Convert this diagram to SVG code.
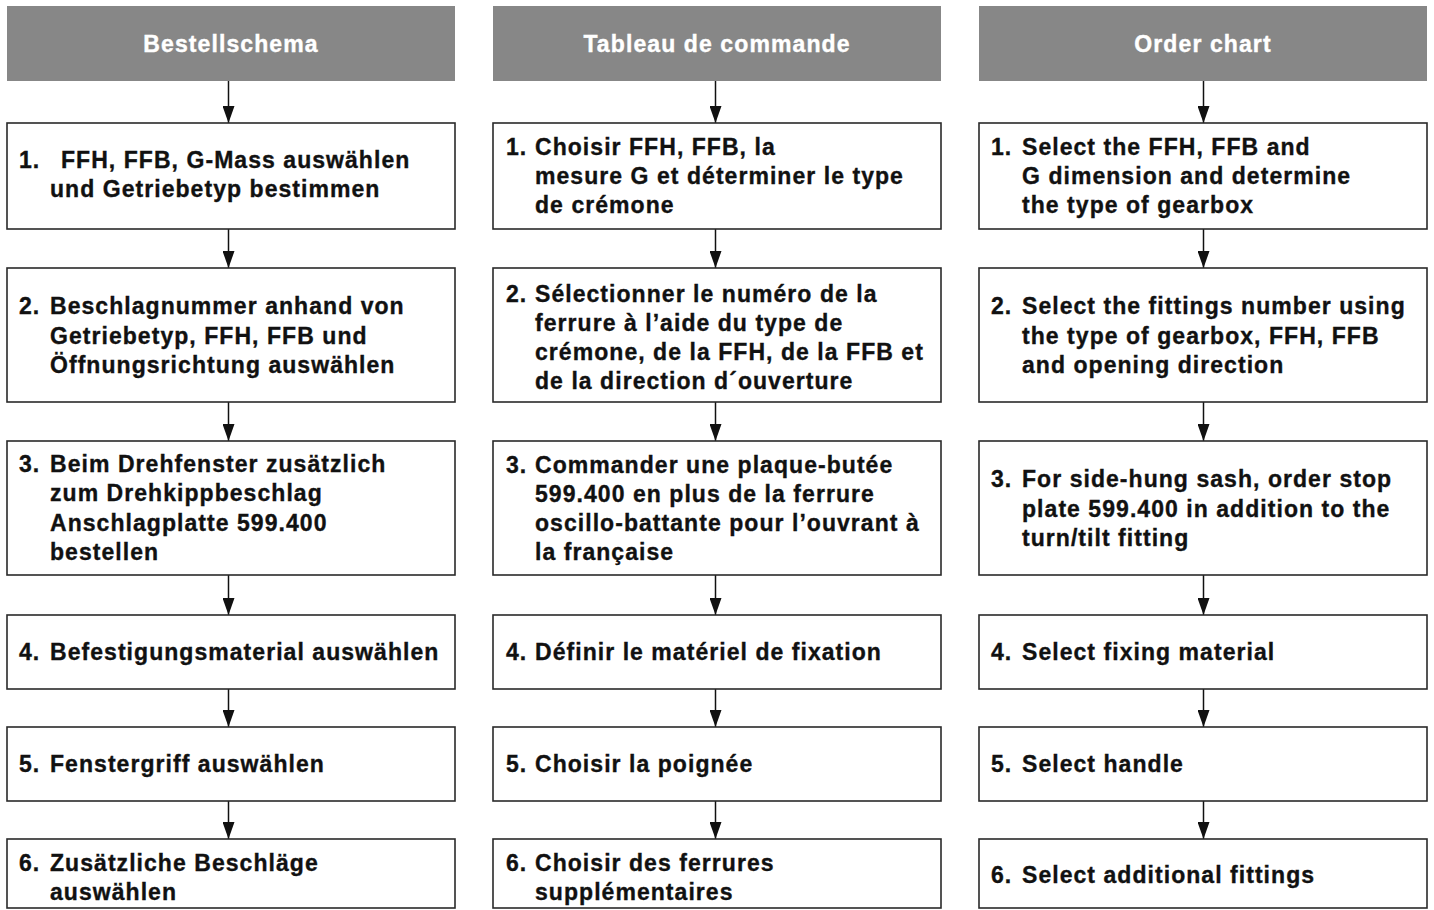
<svg xmlns="http://www.w3.org/2000/svg" width="1434" height="910" viewBox="0 0 1434 910">
<style>
.hdr{fill:#878787;stroke:none}
.ht{font-family:"Liberation Sans",Arial,sans-serif;font-weight:bold;font-size:23px;fill:#fff;stroke:#fff;stroke-width:0.4;text-anchor:middle;letter-spacing:1.1px}
.box{fill:#fff;stroke:#2a2a2a;stroke-width:1.6}
.t{font-family:"Liberation Sans",Arial,sans-serif;font-weight:bold;font-size:23px;fill:#111;stroke:#111;stroke-width:0.35;letter-spacing:1.05px}
.c{stroke:#111;stroke-width:1.5;fill:none;marker-end:url(#ah)}
</style>
<defs>
<marker id="ah" markerUnits="userSpaceOnUse" markerWidth="17" markerHeight="12" viewBox="0 0 17 12" refX="17" refY="6" orient="auto">
<path d="M0,0 L17,6 L0,12 Z" fill="#111"/>
</marker>
</defs>
<rect width="1434" height="910" fill="#fff"/>

<g id="connectors">
<line class="c" x1="228.5" y1="81" x2="228.5" y2="123"/>
<line class="c" x1="228.5" y1="229" x2="228.5" y2="268"/>
<line class="c" x1="228.5" y1="402" x2="228.5" y2="441"/>
<line class="c" x1="228.5" y1="575" x2="228.5" y2="615"/>
<line class="c" x1="228.5" y1="689" x2="228.5" y2="727"/>
<line class="c" x1="228.5" y1="801" x2="228.5" y2="839"/>
<line class="c" x1="715.5" y1="81" x2="715.5" y2="123"/>
<line class="c" x1="715.5" y1="229" x2="715.5" y2="268"/>
<line class="c" x1="715.5" y1="402" x2="715.5" y2="441"/>
<line class="c" x1="715.5" y1="575" x2="715.5" y2="615"/>
<line class="c" x1="715.5" y1="689" x2="715.5" y2="727"/>
<line class="c" x1="715.5" y1="801" x2="715.5" y2="839"/>
<line class="c" x1="1203.5" y1="81" x2="1203.5" y2="123"/>
<line class="c" x1="1203.5" y1="229" x2="1203.5" y2="268"/>
<line class="c" x1="1203.5" y1="402" x2="1203.5" y2="441"/>
<line class="c" x1="1203.5" y1="575" x2="1203.5" y2="615"/>
<line class="c" x1="1203.5" y1="689" x2="1203.5" y2="727"/>
<line class="c" x1="1203.5" y1="801" x2="1203.5" y2="839"/>
</g>

<g id="h1"><rect class="hdr" x="7" y="6" width="448" height="75"/><text class="ht" x="231" y="52">Bestellschema</text></g>
<g id="h2"><rect class="hdr" x="493" y="6" width="448" height="75"/><text class="ht" x="717" y="52">Tableau de commande</text></g>
<g id="h3"><rect class="hdr" x="979" y="6" width="448" height="75"/><text class="ht" x="1203" y="52">Order chart</text></g>

<!-- Column 1 -->
<g id="de1"><rect class="box" x="7" y="123" width="448" height="106"/>
<text class="t" x="19" y="168">1.</text><text class="t" x="61" y="168">FFH, FFB, G-Mass auswählen</text>
<text class="t" x="50" y="197">und Getriebetyp bestimmen</text></g>
<g id="de2"><rect class="box" x="7" y="268" width="448" height="134"/>
<text class="t" x="19" y="314">2.</text><text class="t" x="50" y="314">Beschlagnummer anhand von</text>
<text class="t" x="50" y="344">Getriebetyp, FFH, FFB und</text>
<text class="t" x="50" y="373">Öffnungsrichtung auswählen</text></g>
<g id="de3"><rect class="box" x="7" y="441" width="448" height="134"/>
<text class="t" x="19" y="472">3.</text><text class="t" x="50" y="472">Beim Drehfenster zusätzlich</text>
<text class="t" x="50" y="501">zum Drehkippbeschlag</text>
<text class="t" x="50" y="531">Anschlagplatte 599.400</text>
<text class="t" x="50" y="560">bestellen</text></g>
<g id="de4"><rect class="box" x="7" y="615" width="448" height="74"/>
<text class="t" x="19" y="660">4.</text><text class="t" x="50" y="660">Befestigungsmaterial auswählen</text></g>
<g id="de5"><rect class="box" x="7" y="727" width="448" height="74"/>
<text class="t" x="19" y="772">5.</text><text class="t" x="50" y="772">Fenstergriff auswählen</text></g>
<g id="de6"><rect class="box" x="7" y="839" width="448" height="69"/>
<text class="t" x="19" y="871">6.</text><text class="t" x="50" y="871">Zusätzliche Beschläge</text>
<text class="t" x="50" y="900">auswählen</text></g>

<!-- Column 2 -->
<g id="fr1"><rect class="box" x="493" y="123" width="448" height="106"/>
<text class="t" x="506" y="155">1.</text><text class="t" x="535" y="155">Choisir FFH, FFB, la</text>
<text class="t" x="535" y="184">mesure G et déterminer le type</text>
<text class="t" x="535" y="213">de crémone</text></g>
<g id="fr2"><rect class="box" x="493" y="268" width="448" height="134"/>
<text class="t" x="506" y="302">2.</text><text class="t" x="535" y="302">Sélectionner le numéro de la</text>
<text class="t" x="535" y="331">ferrure à l’aide du type de</text>
<text class="t" x="535" y="360">crémone, de la FFH, de la FFB et</text>
<text class="t" x="535" y="389">de la direction d´ouverture</text></g>
<g id="fr3"><rect class="box" x="493" y="441" width="448" height="134"/>
<text class="t" x="506" y="473">3.</text><text class="t" x="535" y="473">Commander une plaque-butée</text>
<text class="t" x="535" y="502">599.400 en plus de la ferrure</text>
<text class="t" x="535" y="531">oscillo-battante pour l’ouvrant à</text>
<text class="t" x="535" y="560">la française</text></g>
<g id="fr4"><rect class="box" x="493" y="615" width="448" height="74"/>
<text class="t" x="506" y="660">4.</text><text class="t" x="535" y="660">Définir le matériel de fixation</text></g>
<g id="fr5"><rect class="box" x="493" y="727" width="448" height="74"/>
<text class="t" x="506" y="772">5.</text><text class="t" x="535" y="772">Choisir la poignée</text></g>
<g id="fr6"><rect class="box" x="493" y="839" width="448" height="69"/>
<text class="t" x="506" y="871">6.</text><text class="t" x="535" y="871">Choisir des ferrures</text>
<text class="t" x="535" y="900">supplémentaires</text></g>

<!-- Column 3 -->
<g id="en1"><rect class="box" x="979" y="123" width="448" height="106"/>
<text class="t" x="991" y="155">1.</text><text class="t" x="1022" y="155">Select the FFH, FFB and</text>
<text class="t" x="1022" y="184">G dimension and determine</text>
<text class="t" x="1022" y="213">the type of gearbox</text></g>
<g id="en2"><rect class="box" x="979" y="268" width="448" height="134"/>
<text class="t" x="991" y="314">2.</text><text class="t" x="1022" y="314">Select the fittings number using</text>
<text class="t" x="1022" y="344">the type of gearbox, FFH, FFB</text>
<text class="t" x="1022" y="373">and opening direction</text></g>
<g id="en3"><rect class="box" x="979" y="441" width="448" height="134"/>
<text class="t" x="991" y="487">3.</text><text class="t" x="1022" y="487">For side-hung sash, order stop</text>
<text class="t" x="1022" y="517">plate 599.400 in addition to the</text>
<text class="t" x="1022" y="546">turn/tilt fitting</text></g>
<g id="en4"><rect class="box" x="979" y="615" width="448" height="74"/>
<text class="t" x="991" y="660">4.</text><text class="t" x="1022" y="660">Select fixing material</text></g>
<g id="en5"><rect class="box" x="979" y="727" width="448" height="74"/>
<text class="t" x="991" y="772">5.</text><text class="t" x="1022" y="772">Select handle</text></g>
<g id="en6"><rect class="box" x="979" y="839" width="448" height="69"/>
<text class="t" x="991" y="883">6.</text><text class="t" x="1022" y="883">Select additional fittings</text></g>
</svg>
